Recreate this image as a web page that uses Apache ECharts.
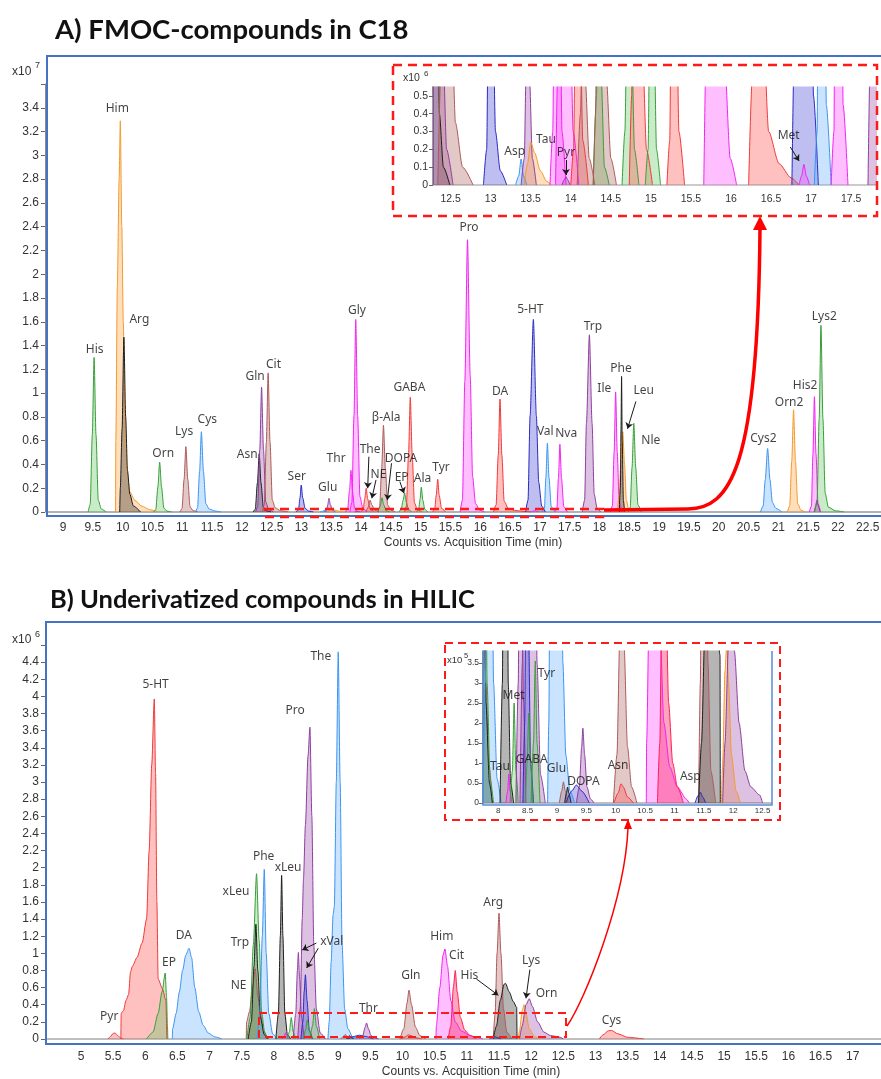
<!DOCTYPE html>
<html>
<head>
<meta charset="utf-8">
<script src="https://cdn.jsdelivr.net/npm/echarts@6/dist/echarts.min.js"></script>
<style>
html,body{margin:0;padding:0;background:#fff}
#chart{width:881px;height:1079px}
</style>
</head>
<body>
<div id="chart"></div>
<script>
// ---------- Panel A: FMOC derivatives on C18 (intensity in 1e7 counts) ----------
const namesA = ['His','Him','Arg','Orn','Lys','Cys','Asn','Gln','Cit','Ser','Asp','Glu','Tau','Thr','Gly','Pyr',
  'The','NE','DOPA','β-Ala','EP','GABA','Ala','Tyr','Pro','DA','5-HT','Met','Val','Nva','Trp','Ile','Leu','Phe',
  'Nle','Cys2','Orn2','His2','Lys2b','Lys2'];
const peaksA = [
  [[9.42,0],[9.455,0.065],[9.49,0.65],[9.52,1.30],[9.552,0.65],[9.59,0.1],[9.64,0.026],[9.72,0]],
  [[9.88,0],[9.885,0.6],[9.91,1.9],[9.94,2.8],[9.96,3.29],[9.985,2.4],[10.01,1.6],[10.04,0.8],[10.07,0.35],[10.12,0.17],[10.2,0.1],[10.32,0.05],[10.45,0.02],[10.6,0]],
  [[9.95,0],[9.96,0.2],[9.99,0.7],[10.02,1.47],[10.05,0.8],[10.08,0.35],[10.12,0.15],[10.18,0.05],[10.3,0]],
  [[10.52,0],[10.555,0.02],[10.59,0.21],[10.62,0.42],[10.652,0.21],[10.69,0.034],[10.74,0.008],[10.82,0]],
  [[10.96,0],[10.995,0.028],[11.03,0.275],[11.06,0.55],[11.092,0.275],[11.13,0.044],[11.18,0.011],[11.26,0]],
  [[11.22,0],[11.255,0.034],[11.29,0.34],[11.32,0.675],[11.355,0.34],[11.395,0.07],[11.45,0.025],[11.55,0.008],[11.65,0]],
  [[12.19,0],[12.225,0.025],[12.26,0.245],[12.29,0.49],[12.32,0.245],[12.36,0.04],[12.41,0.01],[12.49,0]],
  [[12.23,0],[12.265,0.05],[12.3,0.525],[12.33,1.05],[12.362,0.525],[12.4,0.084],[12.45,0.02],[12.53,0]],
  [[12.34,0],[12.375,0.06],[12.41,0.585],[12.44,1.17],[12.472,0.585],[12.51,0.1],[12.56,0.035],[12.65,0.01],[12.78,0]],
  [[12.91,0],[12.95,0.02],[12.975,0.12],[12.995,0.227],[13.02,0.12],[13.06,0.03],[13.12,0.008],[13.2,0]],
  [[13.31,0],[13.35,0.005],[13.38,0.0146],[13.41,0.005],[13.45,0]],
  [[13.38,0],[13.42,0.015],[13.44,0.06],[13.46,0.115],[13.485,0.06],[13.52,0.015],[13.57,0]],
  [[13.42,0],[13.46,0.012],[13.5,0.024],[13.55,0.018],[13.62,0.008],[13.7,0.002],[13.76,0]],
  [[13.74,0],[13.775,0.03],[13.805,0.18],[13.83,0.35],[13.855,0.17],[13.89,0.03],[13.94,0]],
  [[13.81,0],[13.845,0.08],[13.88,0.81],[13.91,1.62],[13.942,0.81],[13.98,0.13],[14.03,0.03],[14.1,0]],
  [[13.89,0],[13.92,0.003],[13.94,0.0047],[13.96,0.003],[13.99,0]],
  [[14.0,0],[14.035,0.02],[14.06,0.11],[14.085,0.2],[14.11,0.11],[14.15,0.025],[14.22,0]],
  [[14.08,0],[14.12,0.04],[14.15,0.1],[14.18,0.06],[14.23,0.015],[14.3,0]],
  [[14.28,0],[14.32,0.05],[14.35,0.12],[14.38,0.06],[14.42,0.01],[14.48,0]],
  [[14.28,0],[14.31,0.04],[14.345,0.365],[14.375,0.73],[14.407,0.365],[14.445,0.06],[14.5,0.015],[14.57,0]],
  [[14.64,0],[14.675,0.03],[14.705,0.1],[14.73,0.16],[14.76,0.08],[14.795,0.02],[14.85,0]],
  [[14.73,0],[14.76,0.05],[14.795,0.48],[14.825,0.965],[14.857,0.48],[14.895,0.077],[14.945,0.02],[15.02,0]],
  [[14.93,0],[14.965,0.02],[14.99,0.11],[15.01,0.21],[15.035,0.1],[15.07,0.02],[15.12,0]],
  [[15.2,0],[15.235,0.025],[15.26,0.14],[15.285,0.275],[15.31,0.14],[15.35,0.03],[15.42,0]],
  [[15.66,0],[15.7,0.1],[15.74,1.1],[15.785,2.29],[15.83,1.15],[15.87,0.3],[15.92,0.07],[15.99,0.015],[16.07,0]],
  [[16.22,0],[16.265,0.06],[16.3,0.475],[16.33,0.95],[16.362,0.475],[16.4,0.09],[16.47,0.03],[16.6,0.012],[16.75,0.004],[16.85,0]],
  [[16.76,0],[16.8,0.1],[16.835,0.81],[16.89,1.62],[16.94,0.81],[16.98,0.25],[17.03,0.05],[17.09,0]],
  [[16.85,0],[16.88,0.005],[16.91,0.0116],[16.94,0.005],[16.98,0]],
  [[17.04,0],[17.075,0.03],[17.1,0.29],[17.125,0.58],[17.152,0.29],[17.19,0.045],[17.25,0]],
  [[17.25,0],[17.285,0.03],[17.31,0.285],[17.335,0.57],[17.362,0.285],[17.4,0.045],[17.46,0]],
  [[17.71,0],[17.75,0.1],[17.78,0.745],[17.83,1.49],[17.875,0.745],[17.91,0.15],[17.96,0.03],[18.02,0]],
  [[18.18,0],[18.215,0.05],[18.245,0.505],[18.27,1.01],[18.297,0.505],[18.33,0.08],[18.38,0]],
  [[18.3,0],[18.33,0.15],[18.36,0.45],[18.39,0.675],[18.42,0.4],[18.45,0.1],[18.49,0]],
  [[18.33,0],[18.35,0.2],[18.36,0.7],[18.37,1.14],[18.38,0.6],[18.4,0.1],[18.42,0]],
  [[18.48,0],[18.515,0.04],[18.545,0.373],[18.575,0.746],[18.607,0.373],[18.645,0.06],[18.7,0]],
  [[20.7,0],[20.745,0.05],[20.78,0.27],[20.82,0.535],[20.86,0.27],[20.9,0.08],[20.96,0.03],[21.06,0]],
  [[21.15,0],[21.19,0.05],[21.225,0.43],[21.255,0.86],[21.287,0.43],[21.325,0.07],[21.38,0.015],[21.45,0]],
  [[21.52,0],[21.555,0.05],[21.58,0.485],[21.605,0.97],[21.632,0.485],[21.665,0.07],[21.71,0]],
  [[21.6,0],[21.63,0.05],[21.65,0.1],[21.67,0.05],[21.7,0]],
  [[21.61,0],[21.65,0.1],[21.685,0.785],[21.715,1.57],[21.748,0.785],[21.785,0.16],[21.84,0.04],[21.96,0.01],[22.1,0]]
];
const coloursA = ['green','orange','black','green','rosy','sky','black','purple','rosy','blue','sky','purple','orange',
  'magenta','magenta','purple','red','rosy','green','rosy','green','red','green','red','magenta','red','blue','magenta',
  'sky','magenta','purple','magenta','orange','black','green','sky','orange','magenta','purple','green'];

const ticksAx = [9,9.5,10,10.5,11,11.5,12,12.5,13,13.5,14,14.5,15,15.5,16,16.5,17,17.5,18,18.5,19,19.5,20,20.5,21,21.5,22,22.5];
const ticksAy = [0,0.2,0.4,0.6,0.8,1,1.2,1.4,1.6,1.8,2,2.2,2.4,2.6,2.8,3,3.2,3.4];
const insetTicksAx = [12.5,13,13.5,14,14.5,15,15.5,16,16.5,17,17.5];
const insetTicksAy = [0,0.1,0.2,0.3,0.4,0.5];           // in 1e6 counts

// annotation anchors (label text centre, data coordinates)
const labelPosA = [['His',9.53,1.37],['Him',9.91,3.39],['Arg',10.28,1.62],['Orn',10.68,0.49],['Lys',11.03,0.675],
  ['Cys',11.42,0.774],['Asn',12.09,0.48],['Gln',12.22,1.14],['Cit',12.53,1.24],['Ser',12.92,0.297],['Glu',13.44,0.207],
  ['Thr',13.58,0.446],['Gly',13.93,1.69],['The',14.15,0.527],['NE',14.29,0.311],['β-Ala',14.42,0.796],['DOPA',14.67,0.45],
  ['EP',14.68,0.29],['GABA',14.81,1.05],['Ala',15.03,0.28],['Tyr',15.34,0.37],['Pro',15.81,2.39],['DA',16.33,1.01],
  ['5-HT',16.84,1.70],['Val',17.09,0.675],['Nva',17.44,0.66],['Trp',17.89,1.56],['Ile',18.08,1.04],['Phe',18.36,1.21],
  ['Leu',18.74,1.02],['Nle',18.86,0.6],['Cys2',20.75,0.62],['Orn2',21.18,0.92],['His2',21.45,1.06],['Lys2',21.77,1.64]];
const arrowsA = [[14.13,0.465,14.11,0.2],[14.25,0.27,14.18,0.115],[14.51,0.41,14.44,0.1],[14.65,0.255,14.72,0.157],[18.61,0.93,18.47,0.7]];
const insetLabelsA = [['Asp',13.30,0.0187],['Tau',13.69,0.0257],['Pyr',13.94,0.0181],['Met',16.72,0.0275]];
const insetArrowsA = [[13.94,0.014,13.94,0.0056],[16.74,0.0213,16.85,0.0135]];

// ---------- Panel B: underivatized compounds on HILIC (intensity in 1e6 counts) ----------
const namesB = ['Pyr','5-HT','EP','DA','NE','Trp','xLeu','Phe','xLeu','Tau','Met','xVal','Pro','xVal','GABA','Tyr',
  'The','Glu','DOPA','','Thr','Gln','Asn','Him','Cit','Asp','Arg','His','Lys','Orn','Cys'];
const peaksB = [
  [[5.42,0],[5.46,0.03],[5.5,0.065],[5.53,0.07],[5.57,0.04],[5.62,0.01],[5.66,0]],
  [[5.62,0],[5.625,0.3],[5.66,0.33],[5.7,0.45],[5.74,0.52],[5.77,0.78],[5.8,0.85],[5.87,0.95],[5.95,1.12],[6.02,1.4],[6.06,2.2],[6.1,3.2],[6.14,3.97],[6.16,3.1],[6.18,1.6],[6.2,0.7],[6.27,0.58],[6.32,0.45],[6.335,0]],
  [[6.02,0],[6.12,0.08],[6.2,0.3],[6.26,0.55],[6.31,0.77],[6.33,0.5],[6.345,0.15],[6.35,0]],
  [[6.42,0],[6.425,0.12],[6.48,0.3],[6.53,0.55],[6.58,0.8],[6.63,0.98],[6.68,1.06],[6.72,0.95],[6.77,0.6],[6.83,0.32],[6.9,0.16],[6.98,0.07],[7.08,0.025],[7.19,0]],
  [[7.57,0],[7.575,0.2],[7.62,0.32],[7.67,0.6],[7.71,0.82],[7.75,0.5],[7.79,0.3],[7.84,0.1],[7.9,0]],
  [[7.6,0],[7.65,0.2],[7.69,0.85],[7.72,1.34],[7.75,0.8],[7.79,0.25],[7.85,0.05],[7.9,0]],
  [[7.58,0],[7.63,0.25],[7.68,1.1],[7.73,1.93],[7.77,1.15],[7.81,0.3],[7.86,0.06],[7.92,0]],
  [[7.74,0],[7.78,0.3],[7.82,1.2],[7.85,1.98],[7.88,1.0],[7.92,0.3],[7.98,0.06],[8.05,0]],
  [[8.03,0],[8.07,0.3],[8.1,1.2],[8.12,1.91],[8.14,1.2],[8.17,0.3],[8.21,0.05],[8.26,0]],
  [[8.13,0],[8.16,0.03],[8.18,0.072],[8.2,0.03],[8.23,0]],
  [[8.2,0],[8.24,0.08],[8.27,0.25],[8.3,0.08],[8.34,0]],
  [[8.3,0],[8.34,0.3],[8.365,0.8],[8.38,1.01],[8.4,0.7],[8.43,0.25],[8.47,0]],
  [[8.37,0],[8.41,0.35],[8.44,1.4],[8.46,1.87],[8.49,2.5],[8.53,3.3],[8.56,3.64],[8.59,2.6],[8.62,1.1],[8.66,0.35],[8.72,0.07],[8.8,0]],
  [[8.42,0],[8.45,0.2],[8.47,0.55],[8.49,0.75],[8.515,0.45],[8.55,0.1],[8.6,0]],
  [[8.46,0],[8.49,0.1],[8.52,0.225],[8.55,0.1],[8.59,0]],
  [[8.56,0],[8.6,0.15],[8.63,0.355],[8.66,0.15],[8.71,0]],
  [[8.84,0],[8.86,0.2],[8.89,0.9],[8.92,1.45],[8.94,1.55],[8.97,3.0],[9.0,4.52],[9.03,3.0],[9.06,1.1],[9.1,0.35],[9.15,0.12],[9.22,0.03],[9.3,0]],
  [[9.04,0],[9.08,0.03],[9.11,0.053],[9.14,0.03],[9.19,0]],
  [[9.13,0],[9.16,0.025],[9.18,0.04],[9.2,0.025],[9.24,0]],
  [[9.15,0],[9.25,0.03],[9.33,0.045],[9.42,0.03],[9.55,0]],
  [[9.33,0],[9.38,0.04],[9.42,0.14],[9.44,0.187],[9.47,0.12],[9.51,0.04],[9.57,0.01],[9.63,0]],
  [[9.96,0],[10.02,0.12],[10.07,0.42],[10.1,0.57],[10.14,0.4],[10.2,0.14],[10.27,0.04],[10.36,0]],
  [[9.97,0],[10.04,0.025],[10.09,0.048],[10.13,0.04],[10.2,0.015],[10.3,0]],
  [[10.52,0],[10.525,0.15],[10.58,0.6],[10.63,0.98],[10.66,1.05],[10.7,0.85],[10.75,0.45],[10.82,0.2],[10.92,0.09],[11.05,0.04],[11.2,0.01],[11.25,0]],
  [[10.71,0],[10.75,0.15],[10.79,0.6],[10.82,0.8],[10.85,0.55],[10.9,0.25],[10.97,0.1],[11.05,0.04],[11.15,0]],
  [[11.35,0],[11.4,0.018],[11.44,0.027],[11.48,0.015],[11.53,0]],
  [[11.41,0],[11.44,0.3],[11.47,1.0],[11.5,1.47],[11.53,1.0],[11.57,0.35],[11.62,0.08],[11.7,0]],
  [[11.41,0],[11.46,0.15],[11.52,0.45],[11.58,0.64],[11.6,0.65],[11.66,0.55],[11.72,0.44],[11.775,0.37],[11.78,0]],
  [[11.8,0],[11.82,0.1],[11.86,0.33],[11.89,0.4],[11.92,0.3],[11.97,0.12],[12.05,0.03],[12.12,0]],
  [[11.82,0],[11.86,0.15],[11.92,0.4],[11.97,0.47],[12.02,0.38],[12.1,0.2],[12.2,0.08],[12.3,0.04],[12.45,0.02],[12.5,0]],
  [[13.06,0],[13.12,0.05],[13.2,0.095],[13.25,0.1],[13.35,0.06],[13.5,0.02],[13.75,0]]
];
const coloursB = ['red','red','green','sky','rosy','black','green','sky','black','magenta','green','purple','purple','blue',
  'green','green','sky','rosy','black','blue','purple','rosy','red','magenta','crimson','blue','rosy','black','orange','purple','red'];

const ticksBx = [5,5.5,6,6.5,7,7.5,8,8.5,9,9.5,10,10.5,11,11.5,12,12.5,13,13.5,14,14.5,15,15.5,16,16.5,17];
const ticksBy = [0,0.2,0.4,0.6,0.8,1,1.2,1.4,1.6,1.8,2,2.2,2.4,2.6,2.8,3,3.2,3.4,3.6,3.8,4,4.2,4.4];
const insetTicksBx = [8,8.5,9,9.5,10,10.5,11,11.5,12,12.5];
const insetTicksBy = [0,0.5,1,1.5,2,2.5,3,3.5];          // in 1e5 counts

const labelPosB = [['Pyr',5.44,0.257],['5-HT',6.16,4.14],['EP',6.37,0.89],['DA',6.6,1.21],['NE',7.45,0.62],['Trp',7.47,1.12],
  ['xLeu',7.41,1.72],['Phe',7.84,2.13],['xLeu',8.22,2.0],['Pro',8.33,3.83],['The',8.73,4.47],['xVal',8.9,1.14],['Thr',9.47,0.35],
  ['Gln',10.13,0.74],['Him',10.61,1.19],['Cit',10.84,0.97],['His',11.04,0.735],['Arg',11.41,1.59],['Lys',12.0,0.91],
  ['Orn',12.24,0.525],['Cys',13.25,0.22]];
const arrowsB = [[8.66,1.12,8.44,1.04],[8.69,1.06,8.51,0.83],[11.15,0.7,11.49,0.51],[11.98,0.81,11.92,0.475]];
const insetLabelsB = [['Tau',8.03,0.09],['Met',8.26,0.269],['GABA',8.57,0.1085],['Tyr',8.82,0.3235],['Glu',8.99,0.086],
  ['DOPA',9.45,0.054],['Asn',10.04,0.094],['Asp',11.27,0.065]];

// ---------- styling ----------
const palette = {
  green:   {line:'#3a9d3a', fill:'rgba(100,200,100,0.5)'},
  orange:  {line:'#f39a2c', fill:'rgba(255,170,80,0.55)'},
  black:   {line:'#1e1e1e', fill:'rgba(45,45,45,0.5)'},
  rosy:    {line:'#ad5a5a', fill:'rgba(176,100,100,0.5)'},
  sky:     {line:'#3c94f0', fill:'rgba(105,178,255,0.5)'},
  purple:  {line:'#8e3f9e', fill:'rgba(156,80,176,0.5)'},
  blue:    {line:'#2a2ac0', fill:'rgba(70,70,214,0.5)'},
  magenta: {line:'#f024f0', fill:'rgba(255,85,255,0.55)'},
  red:     {line:'#f03a3a', fill:'rgba(255,90,90,0.55)'},
  crimson: {line:'#ff1f5a', fill:'rgba(255,40,100,0.6)'}
};
const TICK_FONT = 'Liberation Sans';
const LABEL_FONT = 'Noto Sans';
const TITLE_FONT = 'Lato';
const FRAME_BLUE = '#4472c4';
const RED = '#ff1a1a';

const series = [];
function addPeaks(peaks, colours, names, axisIdx) {
  peaks.forEach((pts, i) => {
    const c = palette[colours[i]];
    series.push({
      type: 'line', name: names[i], xAxisIndex: axisIdx, yAxisIndex: axisIdx,
      data: pts, showSymbol: false, symbol: 'none', smooth: 0.25, smoothMonotone: 'x',
      clip: true, silent: true, z: 2,
      lineStyle: {color: c.line, width: 1},
      areaStyle: {color: c.fill, origin: 0}
    });
  });
}
function addLabels(list, axisIdx, size) {
  series.push({
    type: 'scatter', xAxisIndex: axisIdx, yAxisIndex: axisIdx, symbolSize: 1, silent: true, z: 20,
    itemStyle: {color: 'rgba(0,0,0,0)'},
    data: list.map(l => [l[1], l[2], l[0]]),
    label: {show: true, position: 'inside', formatter: p => p.data[2], fontFamily: LABEL_FONT,
            fontSize: size, color: '#111'}
  });
}
function addArrows(list, axisIdx) {
  series.push({
    type: 'lines', coordinateSystem: 'cartesian2d', xAxisIndex: axisIdx, yAxisIndex: axisIdx, z: 20, silent: true,
    symbol: ['none', 'arrow'], symbolSize: 6,
    lineStyle: {color: '#1a1a1a', width: 1, opacity: 1},
    data: list.map(a => ({coords: [[a[0], a[1]], [a[2], a[3]]]}))
  });
}

addPeaks(peaksA, coloursA, namesA, 0);
addPeaks(peaksA, coloursA, namesA, 1);
addPeaks(peaksB, coloursB, namesB, 2);
addPeaks(peaksB, coloursB, namesB, 3);
addLabels(labelPosA, 0, 12);
addLabels(insetLabelsA, 1, 12);
addLabels(labelPosB, 2, 12);
addLabels(insetLabelsB, 3, 12);
addArrows(arrowsA, 0);
addArrows(insetArrowsA, 1);
addArrows(arrowsB, 2);

const fmt = v => String(+v.toFixed(3));
function xAxis(grid, min, max, ticks, font, margin, lineColor) {
  return {
    type: 'value', gridIndex: grid, min, max, splitLine: {show: false},
    axisLine: {show: true, onZero: true, lineStyle: {color: lineColor, width: 1.5}},
    axisTick: {show: false},
    axisLabel: {customValues: ticks, formatter: fmt, fontFamily: TICK_FONT, fontSize: font, color: '#333', margin}
  };
}
function yAxis(grid, min, max, ticks, labels, scale, font, margin, offset) {
  return {
    type: 'value', gridIndex: grid, min, max, offset, splitLine: {show: false},
    axisLine: {show: true, lineStyle: {color: '#8a8a8a', width: 1}},
    axisTick: {show: true, length: 4, customValues: ticks, lineStyle: {color: '#666'}},
    axisLabel: {customValues: labels, formatter: v => fmt(v * scale), fontFamily: TICK_FONT, fontSize: font,
                color: '#333', margin}
  };
}

const option = {
  animation: false,
  backgroundColor: '#fff',
  grid: [
    {left: 47, top: 84, width: 844, height: 428, outerBoundsMode: 'none'},
    {left: 433, top: 87, width: 443, height: 98, outerBoundsMode: 'none'},
    {left: 46, top: 645, width: 844, height: 394, outerBoundsMode: 'none'},
    {left: 483, top: 651, width: 289, height: 152, outerBoundsMode: 'none'}
  ],
  xAxis: [
    xAxis(0, 8.73, 22.89, ticksAx, 12, 10, '#999'),
    xAxis(1, 12.28, 17.81, insetTicksAx, 10.5, 9, '#bbb'),
    xAxis(2, 4.456, 17.58, ticksBx, 12, 12, '#aaa'),
    xAxis(3, 7.74, 12.66, insetTicksBx, 8, 4, '#aaa')
  ],
  yAxis: [
    yAxis(0, 0, 3.6, ticksAy.concat([3.6]), ticksAy, 1, 12, 6, 2),
    yAxis(1, 0, 0.055, insetTicksAy.map(v => v / 10), insetTicksAy.map(v => v / 10), 10, 10.5, 5, 0),
    yAxis(2, 0, 4.6, ticksBy.concat([4.6]), ticksBy, 1, 12, 6, 1),
    yAxis(3, 0, 0.38, insetTicksBy.map(v => v / 10), insetTicksBy.map(v => v / 10), 10, 8.5, 4, 0)
  ],
  series,
  graphic: [
    // panel titles
    {type: 'text', x: 55, y: 30, z: 30, style: {text: 'A) FMOC-compounds in C18', fontFamily: TITLE_FONT, fontWeight: 'bold',
      fontSize: 27.5, fill: '#111', verticalAlign: 'middle'}},
    {type: 'text', x: 50, y: 600, z: 30, style: {text: 'B) Underivatized compounds in HILIC', fontFamily: TITLE_FONT, fontWeight: 'bold',
      fontSize: 25.5, fill: '#111', verticalAlign: 'middle'}},
    // plot frames
    {type: 'rect', z: 30, shape: {x: 47, y: 56, width: 850, height: 460}, style: {fill: null, stroke: FRAME_BLUE, lineWidth: 2}},
    {type: 'rect', z: 30, shape: {x: 46, y: 622, width: 850, height: 422}, style: {fill: null, stroke: FRAME_BLUE, lineWidth: 2}},
    {type: 'polyline', z: 30, shape: {points: [[483, 651], [483, 805], [772, 805], [772, 651]]},
      style: {fill: null, stroke: '#5b8bd6', lineWidth: 1.5}},
    // exponent captions
    {type: 'text', x: 12, y: 72, z: 30, style: {text: 'x10', fontFamily: TICK_FONT, fontSize: 12, fill: '#333', verticalAlign: 'middle'}},
    {type: 'text', x: 35, y: 66, z: 30, style: {text: '7', fontFamily: TICK_FONT, fontSize: 9, fill: '#333', verticalAlign: 'middle'}},
    {type: 'text', x: 12, y: 640, z: 30, style: {text: 'x10', fontFamily: TICK_FONT, fontSize: 12, fill: '#333', verticalAlign: 'middle'}},
    {type: 'text', x: 35, y: 635, z: 30, style: {text: '6', fontFamily: TICK_FONT, fontSize: 9, fill: '#333', verticalAlign: 'middle'}},
    {type: 'text', x: 403, y: 78, z: 30, style: {text: 'x10', fontFamily: TICK_FONT, fontSize: 10.5, fill: '#333', verticalAlign: 'middle'}},
    {type: 'text', x: 424, y: 74, z: 30, style: {text: '6', fontFamily: TICK_FONT, fontSize: 8, fill: '#333', verticalAlign: 'middle'}},
    {type: 'text', x: 447, y: 660, z: 30, style: {text: 'x10', fontFamily: TICK_FONT, fontSize: 9.5, fill: '#333', verticalAlign: 'middle'}},
    {type: 'text', x: 464, y: 656, z: 30, style: {text: '5', fontFamily: TICK_FONT, fontSize: 7.5, fill: '#333', verticalAlign: 'middle'}},
    // axis titles
    {type: 'text', x: 473, y: 543, z: 30, style: {text: 'Counts vs. Acquisition Time (min)', fontFamily: TICK_FONT, fontSize: 12,
      fill: '#333', align: 'center', verticalAlign: 'middle'}},
    {type: 'text', x: 471, y: 1072, z: 30, style: {text: 'Counts vs. Acquisition Time (min)', fontFamily: TICK_FONT, fontSize: 12,
      fill: '#333', align: 'center', verticalAlign: 'middle'}},
    // zoom boxes
    {type: 'rect', z: 31, shape: {x: 393, y: 65, width: 484, height: 151}, style: {fill: null, stroke: RED, lineWidth: 2.5, lineDash: [9, 6]}},
    {type: 'rect', z: 31, shape: {x: 265, y: 509, width: 338, height: 8}, style: {fill: null, stroke: RED, lineWidth: 2.5, lineDash: [9, 6]}},
    {type: 'rect', z: 31, shape: {x: 445, y: 643, width: 335, height: 177}, style: {fill: null, stroke: RED, lineWidth: 2, lineDash: [8, 5]}},
    {type: 'rect', z: 31, shape: {x: 259, y: 1013, width: 307, height: 24}, style: {fill: null, stroke: RED, lineWidth: 2, lineDash: [8, 5]}},
    // connecting arrows
    {type: 'line', z: 31, shape: {x1: 604, y1: 510, x2: 688, y2: 509}, style: {stroke: '#ff0000', lineWidth: 3.5}},
    {type: 'bezierCurve', z: 31, shape: {x1: 688, y1: 509, cpx1: 730, cpy1: 508, cpx2: 758, cpy2: 470, x2: 760, y2: 228},
      style: {fill: null, stroke: '#ff0000', lineWidth: 3.5}},
    {type: 'polygon', z: 31, shape: {points: [[753, 230], [767, 230], [760, 216]]}, style: {fill: '#ff0000'}},
    {type: 'bezierCurve', z: 31, shape: {x1: 567, y1: 1026, cpx1: 585, cpy1: 1000, cpx2: 625, cpy2: 900, x2: 628, y2: 828},
      style: {fill: null, stroke: '#ff0000', lineWidth: 1.5}},
    {type: 'polygon', z: 31, shape: {points: [[624, 829], [632, 829], [628, 819]]}, style: {fill: '#ff0000'}}
  ]
};

const chart = echarts.init(document.getElementById('chart'), null, {renderer: 'canvas'});
chart.setOption(option);
</script>
</body>
</html>
